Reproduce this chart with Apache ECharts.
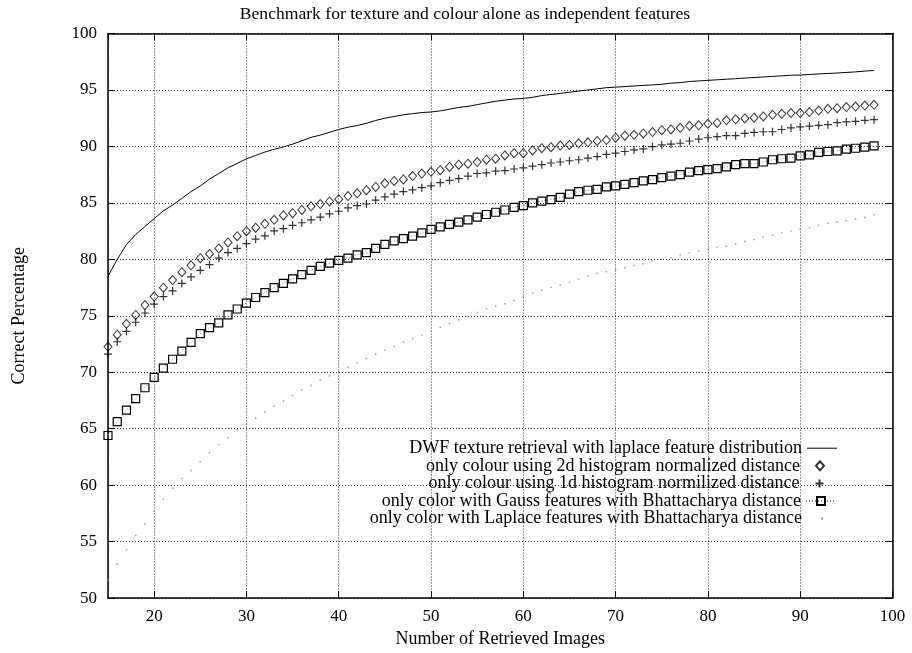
<!DOCTYPE html>
<html><head><meta charset="utf-8">
<script src="https://cdn.jsdelivr.net/npm/echarts@6/dist/echarts.min.js"></script>
<style>html,body{margin:0;padding:0;background:#fff}#c{width:912px;height:653px}</style>
</head><body><div id="c"></div>
<script>
const titleText = 'Benchmark for texture and colour alone as independent features';
const xName = 'Number of Retrieved Images';
const yName = 'Correct Percentage';
const seriesNames = [
  'DWF texture retrieval with laplace feature distribution',
  'only colour using 2d histogram normalized distance',
  'only colour using 1d histogram normilized distance',
  'only color with Gauss features with Bhattacharya distance',
  'only color with Laplace features with Bhattacharya distance'
];
const retrieved = [15,16,17,18,19,20,21,22,23,24,25,26,27,28,29,30,31,32,33,34,35,36,37,38,39,40,41,42,43,44,45,46,47,48,49,50,51,52,53,54,55,56,57,58,59,60,61,62,63,64,65,66,67,68,69,70,71,72,73,74,75,76,77,78,79,80,81,82,83,84,85,86,87,88,89,90,91,92,93,94,95,96,97,98];
const dwfLaplace = [78.5,80.0,81.3,82.2,82.9,83.6,84.3,84.8,85.4,86.0,86.5,87.1,87.6,88.1,88.5,88.9,89.2,89.5,89.75,89.95,90.2,90.5,90.8,91.0,91.25,91.5,91.7,91.85,92.05,92.3,92.5,92.65,92.8,92.9,93.0,93.05,93.15,93.3,93.45,93.55,93.7,93.85,94.0,94.1,94.2,94.25,94.35,94.5,94.6,94.7,94.8,94.9,95.0,95.1,95.2,95.25,95.3,95.35,95.4,95.45,95.5,95.6,95.65,95.75,95.8,95.85,95.9,95.95,96.0,96.05,96.1,96.15,96.2,96.25,96.3,96.32,96.37,96.42,96.46,96.5,96.55,96.6,96.67,96.73];
const hist2d = [72.25,73.33,74.29,75.08,75.95,76.7,77.49,78.16,78.86,79.47,80.1,80.48,80.97,81.5,82.05,82.49,82.8,83.15,83.5,83.89,84.09,84.37,84.7,84.9,85.13,85.33,85.6,85.85,86.12,86.41,86.73,86.94,87.08,87.37,87.6,87.75,87.9,88.18,88.38,88.47,88.62,88.82,88.91,89.2,89.4,89.4,89.64,89.84,89.93,90.08,90.13,90.28,90.36,90.48,90.56,90.77,90.95,91.03,91.15,91.27,91.44,91.5,91.65,91.82,91.87,92.0,92.08,92.31,92.4,92.48,92.54,92.66,92.8,92.89,92.95,92.95,93.04,93.18,93.33,93.39,93.48,93.53,93.62,93.68];
const hist1d = [71.6,72.7,73.62,74.43,75.25,76.03,76.7,77.2,77.87,78.44,79.03,79.53,80.1,80.6,80.97,81.4,81.79,82.08,82.52,82.72,83.0,83.24,83.5,83.74,84.03,84.26,84.55,84.76,84.9,85.25,85.54,85.77,86.0,86.15,86.35,86.5,86.79,86.99,87.14,87.37,87.6,87.66,87.81,87.86,88.0,88.1,88.25,88.38,88.53,88.62,88.73,88.82,88.97,89.1,89.3,89.4,89.55,89.69,89.78,89.99,90.13,90.2,90.28,90.48,90.65,90.77,90.86,90.95,90.95,91.15,91.24,91.3,91.3,91.5,91.65,91.73,91.79,91.87,91.93,92.1,92.17,92.22,92.31,92.37];
const gaussBhatt = [64.4,65.62,66.65,67.67,68.63,69.55,70.37,71.15,71.88,72.64,73.42,73.95,74.38,75.08,75.6,76.13,76.62,77.05,77.49,77.87,78.27,78.65,79.03,79.38,79.67,79.9,80.1,80.4,80.6,80.97,81.32,81.64,81.84,82.05,82.34,82.66,82.87,83.1,83.3,83.5,83.74,83.97,84.17,84.37,84.61,84.76,85.0,85.16,85.29,85.48,85.77,86.0,86.12,86.2,86.41,86.5,86.64,86.79,86.94,87.06,87.23,87.37,87.51,87.72,87.86,87.95,88.04,88.18,88.38,88.47,88.47,88.62,88.82,88.91,88.97,89.17,89.26,89.47,89.55,89.61,89.76,89.84,89.93,90.04];
const laplaceBhatt = [51.6,53.0,54.3,55.55,56.56,57.7,58.74,59.73,60.6,61.27,62.08,62.87,63.6,64.2,64.9,65.4,65.92,66.47,67.0,67.46,67.93,68.42,68.85,69.3,69.67,70.05,70.45,70.85,71.2,71.59,71.94,72.29,72.66,72.98,73.3,73.63,73.97,74.32,74.64,74.93,75.3,75.6,75.86,76.06,76.35,76.68,77.0,77.26,77.52,77.75,77.95,78.24,78.5,78.74,78.91,79.08,79.26,79.46,79.6,79.88,79.99,80.13,80.4,80.57,80.75,80.92,81.1,81.18,81.36,81.58,81.76,81.97,82.14,82.34,82.52,82.66,82.8,83.0,83.19,83.3,83.41,83.56,83.71,83.94];

const FONT = 'Liberation Serif';
const pairs = arr => retrieved.map((x, i) => [x, arr[i]]);
const chart = echarts.init(document.getElementById('c'), null, {renderer: 'canvas'});

const gridL = 108, gridR = 19.5, gridT = 33.5, gridB = 46.5;

const legendRowCenters = [448.2, 465.8, 483.4, 501.0, 518.6];
const legendIcons = [
  'path://M0,0h30v1h-30z',
  'path://M4,0L8,4.5L4,9L0,4.5Z',
  null,
  null,
  'path://M0,0h2v2h-2z'
];
const legendHeights = [8, 9, 8, 10, 2];
const legendRights = [75, 85.5, 86, 75, 89];
function legendFor(i) {
  const item = {name: seriesNames[i]};
  if (legendIcons[i]) item.icon = legendIcons[i];
  return {
    data: [item], orient: 'horizontal', align: 'right',
    right: legendRights[i], top: legendRowCenters[i] - 9, padding: 0,
    itemWidth: 30, itemHeight: legendHeights[i], selectedMode: false,
    textStyle: {fontFamily: FONT, fontSize: 18, color: '#000', lineHeight: 18}
  };
}

const axisLine = {show: true, lineStyle: {color: '#000', width: 1.5}};
const axisTick = {show: true, inside: true, length: 7, lineStyle: {color: '#000', width: 1}};
const gridLine = {show: true, lineStyle: {color: '#333', width: 1, type: [1, 2]}};

chart.setOption({
  animation: false,
  backgroundColor: '#fff',
  textStyle: {fontFamily: FONT},
  graphic: [{
    type: 'text', x: 465, y: 14,
    style: {text: titleText, fontFamily: FONT, fontSize: 17.6, fill: '#000', textAlign: 'center', textVerticalAlign: 'middle'}
  }],
  grid: {left: gridL, right: gridR, top: gridT, bottom: gridB, containLabel: false},
  legend: [legendFor(0), legendFor(1), legendFor(2), legendFor(3), legendFor(4)],
  xAxis: [{
    type: 'value', min: 15, max: 100, splitNumber: 9, position: 'bottom',
    name: xName, nameLocation: 'middle', nameGap: 28,
    nameTextStyle: {fontFamily: FONT, fontSize: 18, color: '#000'},
    axisLabel: {fontFamily: FONT, fontSize: 17, color: '#000', margin: 10, showMinLabel: false},
    axisLine, axisTick, splitLine: gridLine
  }, {
    type: 'value', min: 15, max: 100, splitNumber: 9, position: 'top',
    axisLabel: {show: false}, axisLine, axisTick, splitLine: {show: false}
  }],
  yAxis: [{
    type: 'value', min: 50, max: 100, interval: 5, position: 'left',
    name: yName, nameLocation: 'middle', nameGap: 80, nameRotate: 90,
    nameTextStyle: {fontFamily: FONT, fontSize: 18, color: '#000'},
    axisLabel: {fontFamily: FONT, fontSize: 17, color: '#000', margin: 11},
    axisLine, axisTick, splitLine: gridLine
  }, {
    type: 'value', min: 50, max: 100, interval: 5, position: 'right',
    axisLabel: {show: false}, axisLine, axisTick, splitLine: {show: false}
  }],
  series: [{
    name: seriesNames[0], type: 'line', data: pairs(dwfLaplace),
    symbol: 'none', showSymbol: false, lineStyle: {color: '#000', width: 1},
    itemStyle: {color: '#000'}, z: 5
  }, {
    name: seriesNames[1], type: 'scatter', data: pairs(hist2d),
    symbol: 'diamond', symbolSize: [8, 9],
    itemStyle: {color: 'none', borderColor: '#000', borderWidth: 1}, z: 4
  }, {
    name: seriesNames[2], type: 'scatter', data: pairs(hist1d),
    symbol: 'path://M0,4H8M4,0V8', symbolSize: 8,
    itemStyle: {color: 'none', borderColor: '#000', borderWidth: 1.2}, z: 4
  }, {
    name: seriesNames[3], type: 'line', data: pairs(gaussBhatt),
    symbol: 'rect', symbolSize: 8, showSymbol: true,
    lineStyle: {color: '#888', width: 1, type: [1, 2]},
    itemStyle: {color: 'none', borderColor: '#000', borderWidth: 1.2}, z: 3
  }, {
    name: seriesNames[4], type: 'scatter', data: pairs(laplaceBhatt),
    symbol: 'rect', symbolSize: 1.5,
    itemStyle: {color: '#888'}, z: 3
  }]
});
</script>
</body></html>
